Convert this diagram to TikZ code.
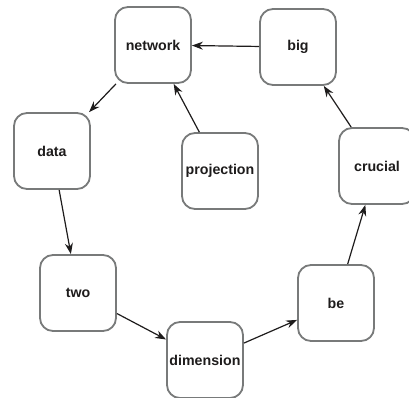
\documentclass[tikz,border=0pt]{standalone}
\usepackage{fontspec}
\setmainfont{Liberation Sans}
\usetikzlibrary{arrows.meta, positioning}
\definecolor{boxgray}{RGB}{120, 122, 122}
\definecolor{linkblack}{RGB}{30, 28, 28}

\tikzset{
	wordbox/.style={draw=boxgray, line width=1.8pt, rounded corners=13pt, fill=white,
		minimum width=76pt, minimum height=76pt, inner sep=0pt,
		font=\fontsize{14.2}{16}\selectfont\bfseries, text=linkblack},
	link/.style={draw=linkblack, line width=1.2pt, -{Stealth[length=11pt, width=8pt]}}
}

\begin{document}
\begin{tikzpicture}[x=1pt, y=-1pt]
	\useasboundingbox (0,0) rectangle (409,398);
	\node[wordbox] (network)    at (153,45)  {network};
	\node[wordbox] (big)        at (298,47)  {big};
	\node[wordbox] (data)       at (52,151)  {data};
	\node[wordbox] (projection) at (220,171) {projection};
	\node[wordbox] (crucial)    at (377,166) {crucial};
	\node[wordbox] (two)        at (78,293)  {two};
	\node[wordbox] (be)         at (336,303) {be};
	\node[wordbox] (dimension)  at (205,360) {dimension};

	\draw[link] (big) -- (network);
	\draw[link] (network) -- (data);
	\draw[link] (projection) -- (network);
	\draw[link] (data) -- (two);
	\draw[link] (two) -- (dimension);
	\draw[link] (dimension) -- (be);
	\draw[link] (be) -- (crucial);
	\draw[link] (crucial) -- (big);
\end{tikzpicture}
\end{document}
